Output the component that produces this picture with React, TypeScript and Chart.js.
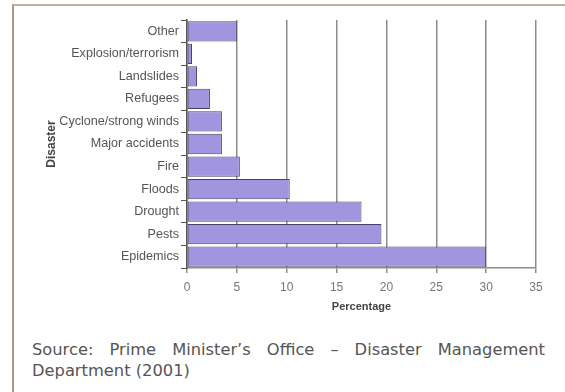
import React, { useEffect, useRef } from "react";
import { Chart, registerables } from "chart.js";

Chart.register(...registerables);

const categories = [
  "Other",
  "Explosion/terrorism",
  "Landslides",
  "Refugees",
  "Cyclone/strong winds",
  "Major accidents",
  "Fire",
  "Floods",
  "Drought",
  "Pests",
  "Epidemics",
];
const percentages = [5.0, 0.5, 1.0, 2.3, 3.5, 3.5, 5.3, 10.3, 17.5, 19.5, 30.0];
const xTicks = [0, 5, 10, 15, 20, 25, 30, 35];
const xTitle = "Percentage";
const yTitle = "Disaster";
const sourceText = "Source: Prime Minister\u2019s Office \u2013 Disaster Management Department (2001)";

export default function App() {
  const ref = useRef<HTMLCanvasElement | null>(null);

  useEffect(() => {
    document.body.style.margin = "0";
    const canvas = ref.current;
    if (!canvas) return;
    const chart = new Chart(canvas, {
      type: "bar",
      data: {
        labels: categories,
        datasets: [
          {
            data: percentages,
            backgroundColor: "#a095de",
            borderColor: "#4a4066",
            borderWidth: 1,
            borderSkipped: false,
            barPercentage: 0.9,
            categoryPercentage: 1,
          },
        ],
      },
      options: {
        indexAxis: "y",
        animation: false,
        responsive: false,
        devicePixelRatio: 1,
        layout: { padding: { top: 14, right: 24, left: 0, bottom: 0 } },
        plugins: { legend: { display: false }, tooltip: { enabled: false } },
        scales: {
          x: {
            min: 0,
            max: 35,
            afterBuildTicks: (s: any) => {
              s.ticks = xTicks.map((v) => ({ value: v }));
            },
            afterFit: (s: any) => {
              s.height = 48;
            },
            grid: {
              color: "#8c8c8c",
              lineWidth: 1.5,
              tickLength: 5,
              tickColor: "#8c8c8c",
            },
            border: { color: "#8c8c8c", width: 1.5 },
            ticks: {
              color: "#777",
              padding: 7,
              font: { family: "Liberation Sans, Arial", size: 12 },
            },
            title: {
              display: true,
              text: xTitle,
              color: "#444",
              padding: { top: 0, bottom: 2 },
              font: { family: "Liberation Sans, Arial", size: 11, weight: "bold" },
            },
          },
          y: {
            afterFit: (s: any) => {
              s.width = 173;
            },
            grid: {
              drawOnChartArea: false,
              offset: true,
              tickLength: 6,
              color: "#555",
            },
            border: { color: "#555", width: 1.5 },
            ticks: {
              color: "#555",
              padding: 2,
              font: { family: "Liberation Sans, Arial", size: 12.6 },
            },
            title: {
              display: true,
              text: yTitle,
              color: "#444",
              padding: { top: 30, bottom: 0 },
              font: { family: "Liberation Sans, Arial", size: 12, weight: "bold" },
            },
          },
        },
      },
    });
    return () => chart.destroy();
  }, []);

  return (
    <div
      style={{
        position: "absolute",
        left: 0,
        top: 0,
        width: 565,
        height: 392,
        background: "#fff",
        overflow: "hidden",
      }}
    >
      <div
        style={{
          position: "absolute",
          left: 12,
          top: 4,
          width: 560,
          height: 400,
          borderTop: "2px solid #c2b0a2",
          borderLeft: "2px solid #a59a8c",
        }}
      />
      <canvas
        ref={ref}
        width={546}
        height={310}
        style={{ position: "absolute", left: 14, top: 6, width: 546, height: 310 }}
      />
      <div
        style={{
          position: "absolute",
          left: 32,
          top: 339,
          width: 513,
          fontFamily: "DejaVu Sans, Verdana",
          fontSize: 16.3,
          lineHeight: "21px",
          color: "#555",
          textAlign: "justify",
        }}
      >
        {sourceText}
      </div>
    </div>
  );
}
